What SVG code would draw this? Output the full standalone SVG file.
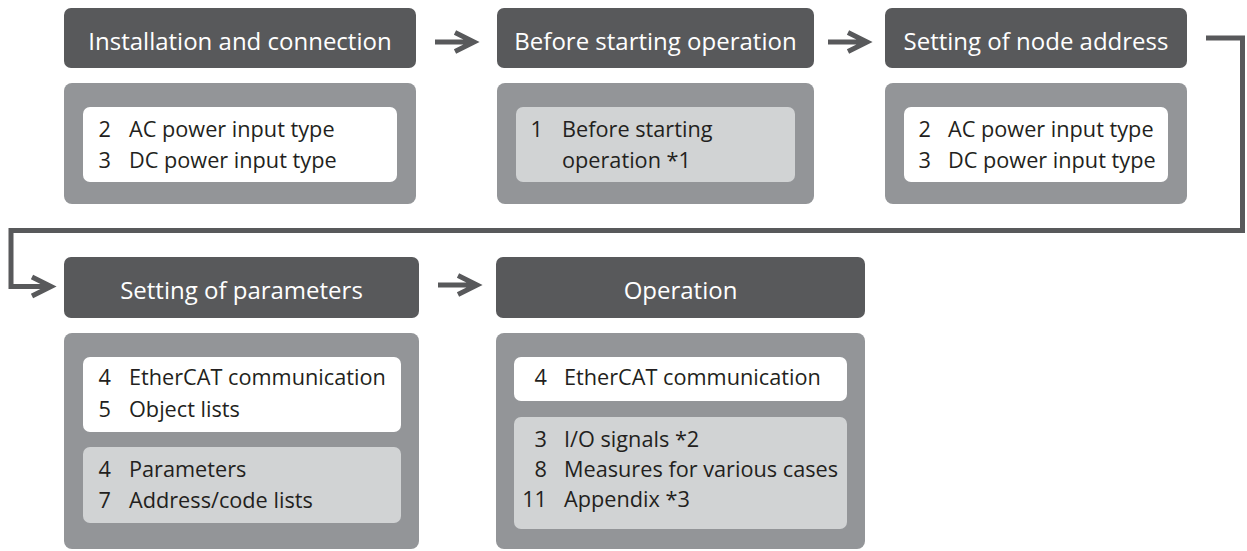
<svg xmlns="http://www.w3.org/2000/svg" width="1247" height="551" viewBox="0 0 1247 551">
<style>
.hd{fill:#58595b}
.gb{fill:#939598}
.wb{fill:#ffffff}
.lb{fill:#d1d3d4}
.ht{font-family:"Open Sans","Liberation Sans",sans-serif;font-size:24px;fill:#ffffff;text-anchor:middle}
.bt{font-family:"Open Sans","Liberation Sans",sans-serif;font-size:21.7px;fill:#231f20}
.n{text-anchor:end}
.cn{fill:none;stroke:#58595b;stroke-width:5}
</style>
<rect width="1247" height="551" fill="#ffffff"/>
<g id="connectors">
<path class="cn" d="M435 42H474M455 32.5L474 42L455 51.5"/>
<path class="cn" d="M828 42H867M848 32.5L867 42L848 51.5"/>
<path class="cn" d="M1206 38H1242.5V230.5H11V286.5H50M32 277L51 286.5L32 296"/>
<path class="cn" d="M438 285H477M458 275.5L477 285L458 294.5"/>
</g>
<g id="n1">
<rect class="hd" x="64" y="8" width="352" height="60" rx="7"/>
<text class="ht" x="240" y="50">Installation and connection</text>
<rect class="gb" x="64" y="83" width="352" height="121" rx="8"/>
<rect class="wb" x="83" y="107" width="314" height="75" rx="7"/>
<text class="bt n" x="111" y="137">2</text><text class="bt" x="129" y="137">AC power input type</text>
<text class="bt n" x="111" y="168">3</text><text class="bt" x="129" y="168">DC power input type</text>
</g>
<g id="n2">
<rect class="hd" x="497" y="8" width="317" height="60" rx="7"/>
<text class="ht" x="655.5" y="50">Before starting operation</text>
<rect class="gb" x="497" y="83" width="317" height="121" rx="8"/>
<rect class="lb" x="516" y="107" width="279" height="75" rx="7"/>
<text class="bt n" x="543" y="137">1</text><text class="bt" x="562" y="137">Before starting</text>
<text class="bt" x="562" y="168">operation *1</text>
</g>
<g id="n3">
<rect class="hd" x="885" y="8" width="302" height="60" rx="7"/>
<text class="ht" x="1036" y="50">Setting of node address</text>
<rect class="gb" x="885" y="83" width="302" height="121" rx="8"/>
<rect class="wb" x="904" y="107" width="264" height="75" rx="7"/>
<text class="bt n" x="931" y="137">2</text><text class="bt" x="948" y="137">AC power input type</text>
<text class="bt n" x="931" y="168">3</text><text class="bt" x="948" y="168">DC power input type</text>
</g>
<g id="n4">
<rect class="hd" x="64" y="257" width="355" height="61" rx="7"/>
<text class="ht" x="241.5" y="299">Setting of parameters</text>
<rect class="gb" x="64" y="333" width="355" height="216" rx="8"/>
<rect class="wb" x="83" y="357" width="318" height="75" rx="7"/>
<text class="bt n" x="111" y="385">4</text><text class="bt" x="129" y="385">EtherCAT communication</text>
<text class="bt n" x="111" y="417">5</text><text class="bt" x="129" y="417">Object lists</text>
<rect class="lb" x="83" y="447" width="318" height="76" rx="7"/>
<text class="bt n" x="111" y="477">4</text><text class="bt" x="129" y="477">Parameters</text>
<text class="bt n" x="111" y="508">7</text><text class="bt" x="129" y="508">Address/code lists</text>
</g>
<g id="n5">
<rect class="hd" x="496" y="257" width="369" height="61" rx="7"/>
<text class="ht" x="680.5" y="299">Operation</text>
<rect class="gb" x="496" y="333" width="369" height="216" rx="8"/>
<rect class="wb" x="514" y="357" width="333" height="44" rx="7"/>
<text class="bt n" x="547" y="385">4</text><text class="bt" x="564" y="385">EtherCAT communication</text>
<rect class="lb" x="514" y="417" width="333" height="112" rx="7"/>
<text class="bt n" x="547" y="447">3</text><text class="bt" x="564" y="447">I/O signals *2</text>
<text class="bt n" x="547" y="477">8</text><text class="bt" x="564" y="477">Measures for various cases</text>
<text class="bt n" x="547" y="507">11</text><text class="bt" x="564" y="507">Appendix *3</text>
</g>
</svg>
